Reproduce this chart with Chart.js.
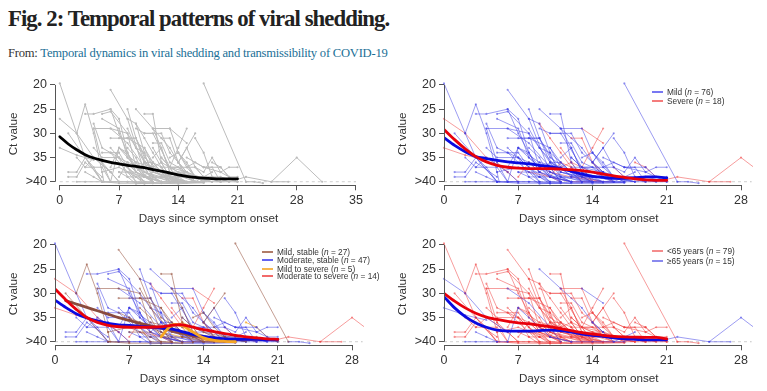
<!DOCTYPE html>
<html>
<head>
<meta charset="utf-8">
<script src="https://cdn.jsdelivr.net/npm/chart.js@4"></script>
<style>
  html, body { margin: 0; padding: 0; background: #fff; }
  body { position: relative; width: 767px; height: 391px; overflow: hidden; }
  #title { position: absolute; left: 8px; top: 6px; font: bold 22.8px "Liberation Serif", serif; color: #222; white-space: nowrap; letter-spacing: -0.95px; }
  #from { position: absolute; left: 8px; top: 46px; font: 12.6px "Liberation Serif", serif; color: #333; white-space: nowrap; letter-spacing: -0.23px; }
  #from span { color: #1a6f96; }
  canvas { position: absolute; }
  .legend { position: absolute; font: 8.3px "Liberation Sans", sans-serif; color: #333; white-space: nowrap; line-height: 1; }
  .legend div { position: absolute; left: 0; }
  .legend b { position: absolute; left: 0; top: 3px; width: 11px; height: 2px; }
  .legend span { position: absolute; left: 15px; top: 0; }
</style>
</head>
<body>
<div id="title">Fig. 2: Temporal patterns of viral shedding.</div>
<div id="from">From: <span>Temporal dynamics in viral shedding and transmissibility of COVID-19</span></div>
<canvas id="panelA" width="380" height="159" style="left:0;top:72px"></canvas>
<canvas id="panelB" width="378" height="159" style="left:389px;top:72px"></canvas>
<canvas id="panelC" width="380" height="159" style="left:0;top:232px"></canvas>
<canvas id="panelD" width="378" height="159" style="left:389px;top:232px"></canvas>
<script>
// tick labels
const yTicks = [20, 25, 30, 35, 40];
const xTicksLong = [0, 7, 14, 21, 28, 35];
const xTicksShort = [0, 7, 14, 21, 28];

// patients, [day, ct]
const mildStableYoung = [
  [[17, 19.7], [22, 40]],
  [[2, 30], [3, 24], [4, 30], [5, 38], [5.2, 40]],
  [[6, 21], [8, 27], [10, 38], [12, 40]],
  [[10, 26], [11, 26], [12, 36], [13, 39]],
  [[4, 29], [6, 29], [8, 30], [9, 37], [11, 40]],
  [[8, 31], [9, 31], [10, 35], [12, 38], [14, 40]],
  [[16, 30], [15, 33], [14, 36], [15, 39]],
  [[11, 29], [12, 33], [13, 38], [16, 40]],
  [[8, 29], [9, 33], [11, 38], [15, 40]],
  [[1, 30], [3, 35], [5, 40], [7, 40]],
  [[7, 35], [8, 37], [9, 40], [11, 40]],
  [[5, 38], [7, 37], [9, 39], [10, 40]],
  [[9, 36], [11, 37], [12, 39], [14, 40]],
  [[12, 35], [13, 37], [14, 40], [16, 40]],
  [[6, 34], [8, 36], [10, 37], [11, 40]],
  [[13, 37], [15, 38], [17, 40]],
  [[10, 33], [11, 36], [13, 40], [17, 40.2]],
  [[7, 38], [9, 38], [10, 40], [12, 40.3]],
  [[14, 38], [16, 39], [17, 40]],
  [[5, 40], [7, 40.3], [10, 40.3], [13, 40.2]],
  [[8, 33], [9, 35], [10, 39], [12, 39]],
  [[11, 38], [13, 39], [15, 39], [18, 40]],
  [[6, 31], [8, 31], [10, 33], [11, 37]],
  [[13, 35], [14, 34], [15, 37], [16, 39], [19, 39], [21, 40]]
];
const moderateStableYoung = [
  [[0, 19.7], [2, 30], [3, 35], [5, 40]],
  [[3, 26], [4, 26], [6, 25], [7, 30], [9, 38], [11, 40]],
  [[5, 26], [6, 25.5], [8, 30], [10, 36], [13, 40]],
  [[8, 25], [9, 31], [11, 38], [14, 40]],
  [[4, 28], [5, 33], [6, 34], [8, 38], [9, 40]],
  [[11, 29], [13, 29], [14, 34], [16, 39]],
  [[16, 31], [17, 34], [18, 39], [20, 40]],
  [[15, 35], [17, 37], [19, 38], [20, 37], [21, 37]],
  [[1, 38], [2, 38], [3, 35], [4, 37], [5, 40]],
  [[1, 39], [2, 39], [3, 36], [5, 39]],
  [[4, 29], [5, 36], [6, 40], [9, 40]],
  [[6, 25], [7, 27], [8, 34], [9, 38], [12, 40]],
  [[7, 33], [8, 34], [9, 37], [11, 39], [14, 40]],
  [[8, 27], [9, 28], [10, 34], [12, 38], [15, 40]],
  [[9, 29], [10, 30], [11, 30], [13, 37], [16, 40]],
  [[11, 32], [12, 32], [13, 36], [15, 38], [18, 40]],
  [[12, 35], [13, 37], [14, 37], [16, 37], [17, 39], [19, 40]],
  [[14, 36], [15, 33], [16, 37], [17, 38], [18, 35], [19, 38], [21, 40]],
  [[5, 34], [7, 34], [8, 37], [10, 40]],
  [[6, 37], [7, 33], [9, 36], [10, 38], [13, 40]],
  [[2, 35], [3, 37], [4, 35], [6, 38], [7, 40]],
  [[3, 37], [5, 37], [6, 40], [8, 40]],
  [[8, 36], [9, 38], [10, 36], [12, 38], [14, 40]],
  [[10, 36], [11, 36], [12, 38], [13, 40], [15, 40.2]],
  [[13, 38], [15, 38], [16, 40], [19, 40]],
  [[9, 39], [10, 39], [12, 40], [14, 40.2]],
  [[7, 38], [8, 39], [9, 40.4], [11, 40.3]],
  [[11, 35], [12, 33], [13, 38], [14, 39], [16, 39], [18, 40]],
  [[17, 37], [18, 37], [19, 40], [21, 40]],
  [[12, 39], [14, 39], [15, 40], [17, 40.1]],
  [[4, 33], [5, 35], [7, 35], [8, 39], [9, 39]],
  [[9, 33], [10, 34], [11, 39], [12, 40]],
  [[14, 34], [15, 36], [16, 39], [18, 39], [20, 40]],
  [[22, 40], [23, 40], [24, 40.3]],
  [[7, 31], [9, 31], [10, 36], [11, 39]],
  [[10, 30], [12, 30], [13, 34], [15, 38]],
  [[5, 27], [7, 29], [8, 35], [10, 39]],
  [[15, 37], [16, 36], [17, 37], [19, 37]],
  [[6, 33], [7, 35], [9, 39], [10, 40.4]],
  [[12, 37], [14, 37], [15, 39], [18, 40]],
  [[8, 40], [11, 40.3], [14, 40.4], [17, 40.2]],
  [[19, 37], [20, 39], [21, 39]]
];
const mildToSevereYoung = [
  [[10, 39], [11, 36], [12, 37], [13, 39], [14, 40]],
  [[11, 37], [12, 36], [14, 38], [16, 40]],
  [[18, 36], [19, 37], [20, 39]],
  [[9, 37], [10, 38], [12, 39], [15, 40]]
];
const moderateToSevereYoung = [
  [[9, 28], [10, 31], [11, 34], [12, 37], [13, 40]],
  [[15, 29], [14, 33], [13, 37], [14, 40]],
  [[12, 31], [13, 31], [14, 36], [15, 39]],
  [[7, 39], [8, 36], [9, 38], [11, 40]],
  [[11, 33], [12, 36], [13, 39], [15, 40]],
  [[8, 38], [10, 39], [12, 40], [16, 40]],
  [[5, 36], [6, 38], [7, 40]],
  [[16, 37], [17, 39], [19, 40]]
];
const moderateStableOld = [
  [[2, 40], [3, 40], [5, 40], [6, 40]],
  [[3, 38], [4, 39], [5, 40]],
  [[6, 29], [8, 32], [10, 37], [11, 40]],
  [[7, 33], [6, 40]],
  [[7, 33], [8, 35], [10, 39], [12, 40]],
  [[9, 25], [11, 29], [13, 33], [14, 36], [15, 38], [16, 40]],
  [[10, 39], [12, 40], [14, 40], [17, 40]],
  [[18, 38], [17, 39], [16, 40]]
];
const moderateToSevereOld = [
  [[0, 27], [2, 30], [4, 35], [6, 38]],
  [[0, 33], [2, 34.5], [4, 35.5]],
  [[13, 29], [15, 32]],
  [[14, 36], [15, 38]],
  [[21, 39.5], [22, 39], [25, 40], [27, 40]],
  [[25, 40], [28, 35], [31, 40]]
];

// smoothed curves, one value per day
const days = [0, 1, 2, 3, 4, 5, 6, 7, 8, 9, 10, 11, 12, 13, 14, 15, 16, 17, 18, 19, 20, 21];
const allCurve = [30.7, 32.2, 33.4, 34.4, 35.1, 35.6, 36, 36.3, 36.6, 36.8, 37.1, 37.5, 37.8, 38.2, 38.6, 38.9, 39.1, 39.25, 39.35, 39.4, 39.4, 39.4];
const mildCurve = [30.9, 32.5, 33.8, 34.8, 35.2, 35.6, 35.9, 36.1, 36.3, 36.6, 36.9, 37.3, 37.8, 38.4, 38.9, 39.1, 39.3, 39.3, 39.2, 39, 39, 39.2];
const severeCurve = [29.2, 31.3, 33.2, 34.8, 35.9, 36.6, 37, 37.2, 37.3, 37.3, 37.3, 37.4, 37.5, 37.7, 38, 38.4, 38.8, 39.1, 39.4, 39.6, 39.7, 39.7];
const mildStableCurve = [null, 31.5, 32.2, 32.9, 33.6, 34.3, 35, 35.6, 36.2, 36.7, 37.2, 37.7, 38.2, 38.7, 39.1, 39.4, 39.5, 39.5, 39.5, 39.5, 39.5, 39.5];
const moderateStableCurve = [31.4, 32.9, 34.2, 35.1, 35.7, 36.2, 36.5, 36.6, 36.8, 37, 37.2, 37.4, 37.9, 38.5, 38.9, 39.2, 39.4, 39.5, 39.5, 39.5, 39.6, 39.6];
const mildToSevereCurve = [null, null, null, null, null, null, null, null, null, null, 39, 36.6, 36.7, 38, 39.2, 39.7, 39.9, 40];
const moderateToSevereCurve = [29.1, 31.3, 33.3, 35, 36, 36.6, 36.9, 37, 37, 37, 36.9, 36.6, 36.5, 37, 37.5, 37.9, 38.3, 38.7, 39, 39.2, 39.4, 39.5];
const youngCurve = [30, 31.6, 33, 34.1, 34.9, 35.4, 35.8, 36.1, 36.3, 36.6, 36.9, 37.3, 37.7, 38.1, 38.4, 38.7, 38.9, 39, 39.05, 39.1, 39.1, 39.4];
const oldCurve = [30.7, 33, 34.8, 36.1, 37, 37.6, 37.8, 37.8, 37.8, 37.7, 37.6, 37.7, 38, 38.4, 38.7, 38.9, 39.2, 39.4, 39.5, 39.6, 39.6, 39.6];

const gray = "#bcbcbc";
const thinBlue = "rgba(60,60,230,0.5)";
const thinRed = "rgba(240,60,60,0.5)";
const thinBrown = "rgba(150,80,60,0.55)";
const thinOrange = "rgba(245,166,35,0.7)";

function patientSets(list, color) {
  const out = [];
  list.forEach(patient => {
    out.push({
      data: patient.map(p => ({ x: p[0], y: p[1] })),
      borderColor: color,
      backgroundColor: color,
      borderWidth: 1,
      pointRadius: 1.1,
      pointBorderWidth: 0,
      tension: 0,
      order: 10,
      clip: { left: 3, top: 3, right: 0, bottom: 3 }
    });
  });
  return out;
}

function curveSet(values, color, order) {
  return {
    data: days.map((d, i) => ({ x: d, y: values[i] })).filter(p => p.y != null),
    borderColor: color,
    borderWidth: 2.8,
    pointRadius: 0,
    tension: 0.3,
    order: order,
    borderCapStyle: "round"
  };
}

function limitLine(xEnd) {
  return {
    data: [{ x: 0, y: 40 }, { x: xEnd, y: 40 }],
    borderColor: "#c4c4c4",
    borderWidth: 0.8,
    borderDash: [3, 3],
    pointRadius: 0,
    order: 20
  };
}

// draws the R style axis lines, only between the first and last tick
const axisLines = {
  id: "axisLines",
  afterDraw(chart) {
    const { ctx, scales } = chart;
    const xs = scales.x, ys = scales.y;
    const axisX = Math.round(xs.left) + 0.5;
    const axisY = Math.round(ys.bottom) + 0.5;
    ctx.save();
    ctx.strokeStyle = "#555";
    ctx.lineWidth = 1;
    ctx.beginPath();
    ctx.moveTo(axisX, ys.getPixelForValue(20));
    ctx.lineTo(axisX, ys.getPixelForValue(40));
    ctx.moveTo(xs.getPixelForValue(0), axisY);
    ctx.lineTo(xs.getPixelForValue(xs.options.lastTick), axisY);
    ctx.stroke();
    ctx.restore();
  }
};

function makePanel(id, datasets, opt) {
  new Chart(document.getElementById(id), {
    type: "line",
    data: { datasets: datasets },
    plugins: [axisLines],
    options: {
      responsive: false,
      animation: false,
      layout: { padding: { left: 0, top: opt.top, right: opt.right, bottom: 0 } },
      plugins: { legend: { display: false }, tooltip: { enabled: false } },
      scales: {
        x: {
          type: "linear",
          min: opt.xMin,
          max: opt.xMax,
          lastTick: opt.xTicks[opt.xTicks.length - 1],
          afterBuildTicks: s => { s.ticks = opt.xTicks.map(v => ({ value: v })); },
          afterFit: s => { s.height = opt.xHeight; },
          grid: { drawOnChartArea: false, drawTicks: true, tickLength: 5, color: "#555" },
          border: { display: false },
          ticks: { autoSkip: false, maxRotation: 0, padding: 3, color: "#333", font: { family: "Liberation Sans", size: 12.5 } },
          // trailing spaces pull the centred title left, the plot area runs past the last tick
          title: { display: true, text: "Days since symptom onset" + opt.titlePad, color: "#333", padding: { top: 4, bottom: 5 }, font: { family: "Liberation Sans", size: 11.7 } }
        },
        y: {
          type: "linear",
          reverse: true,
          min: 19.5,
          max: 40.73,
          afterBuildTicks: s => { s.ticks = yTicks.map(v => ({ value: v })); },
          afterFit: s => { s.width = opt.yWidth; },
          grid: { drawOnChartArea: false, drawTicks: true, tickLength: 5, color: "#555" },
          border: { display: false },
          ticks: { autoSkip: false, padding: 3, color: "#333", font: { family: "Liberation Sans", size: 12.5 }, callback: v => (v === 40 ? ">40" : v) },
          title: { display: true, text: "Ct value", color: "#333", padding: { top: 6.5, bottom: 0 }, font: { family: "Liberation Sans", size: 11.7 } }
        }
      }
    }
  });
}

function addLegend(left, top, rows) {
  const box = document.createElement("div");
  box.className = "legend";
  box.style.left = left + "px";
  box.style.top = top + "px";
  rows.forEach(r => {
    const row = document.createElement("div");
    row.style.top = r.y + "px";
    const line = document.createElement("b");
    line.style.background = r.color;
    const text = document.createElement("span");
    text.innerHTML = r.label;
    row.appendChild(line);
    row.appendChild(text);
    box.appendChild(row);
  });
  document.body.appendChild(box);
}

const wideGeom = { top: 8.8, right: 18, xHeight: 45.7, yWidth: 55, xMin: -0.567, xMax: 35.71, xTicks: xTicksLong, titlePad: "" };
const rightGeom = { top: 8.8, right: 14, xHeight: 45.7, yWidth: 55, xMin: 0, xMax: 29.13, xTicks: xTicksShort, titlePad: "      " };
const leftGeom = { top: 8.8, right: 16, xHeight: 45.7, yWidth: 55, xMin: 0, xMax: 29.13, xTicks: xTicksShort, titlePad: "" };

// panel a: every patient in gray
const everyone = [].concat(mildStableYoung, moderateStableYoung, mildToSevereYoung, moderateToSevereYoung, moderateStableOld, moderateToSevereOld);
makePanel("panelA", [curveSet(allCurve, "#000", 0), limitLine(35)].concat(patientSets(everyone, gray)), wideGeom);

// panel b: mild vs severe
makePanel("panelB", [curveSet(severeCurve, "#e8000b", 0), curveSet(mildCurve, "#0a0ae0", 1), limitLine(29)]
  .concat(patientSets(mildStableYoung, thinBlue), patientSets(moderateStableYoung, thinBlue), patientSets(moderateStableOld, thinBlue),
    patientSets(mildToSevereYoung, thinRed), patientSets(moderateToSevereYoung, thinRed), patientSets(moderateToSevereOld, thinRed)), rightGeom);

// panel c: four clinical courses
makePanel("panelC", [curveSet(moderateToSevereCurve, "#e8000b", 0), curveSet(mildToSevereCurve, "#f5a623", 1), curveSet(moderateStableCurve, "#0a0ae0", 2), curveSet(mildStableCurve, "#8a4a3c", 3), limitLine(29)]
  .concat(patientSets(mildStableYoung, thinBrown), patientSets(moderateStableYoung, thinBlue), patientSets(moderateStableOld, thinBlue),
    patientSets(mildToSevereYoung, thinOrange), patientSets(moderateToSevereYoung, thinRed), patientSets(moderateToSevereOld, thinRed)), leftGeom);

// panel d: age
makePanel("panelD", [curveSet(youngCurve, "#e8000b", 0), curveSet(oldCurve, "#0a0ae0", 1), limitLine(29)]
  .concat(patientSets(moderateStableOld, thinBlue), patientSets(moderateToSevereOld, thinBlue),
    patientSets(mildStableYoung, thinRed), patientSets(moderateStableYoung, thinRed), patientSets(mildToSevereYoung, thinRed), patientSets(moderateToSevereYoung, thinRed)), rightGeom);

addLegend(652, 88, [
  { y: 0, color: "#7878f2", label: "Mild (<i>n</i> = 76)" },
  { y: 9, color: "#f47c7c", label: "Severe (<i>n</i> = 18)" }
]);
addLegend(262, 248, [
  { y: 0, color: "#b07c68", label: "Mild, stable (<i>n</i> = 27)" },
  { y: 8, color: "#6464f0", label: "Moderate, stable (<i>n</i> = 47)" },
  { y: 16.5, color: "#f7b84e", label: "Mild to severe (<i>n</i> = 5)" },
  { y: 24, color: "#f26a6a", label: "Moderate to severe (<i>n</i> = 14)" }
]);
addLegend(652, 247, [
  { y: 0, color: "#f48c8c", label: "&lt;65 years (<i>n</i> = 79)" },
  { y: 9.5, color: "#8a8aee", label: "≥65 years (<i>n</i> = 15)" }
]);
</script>
</body>
</html>
